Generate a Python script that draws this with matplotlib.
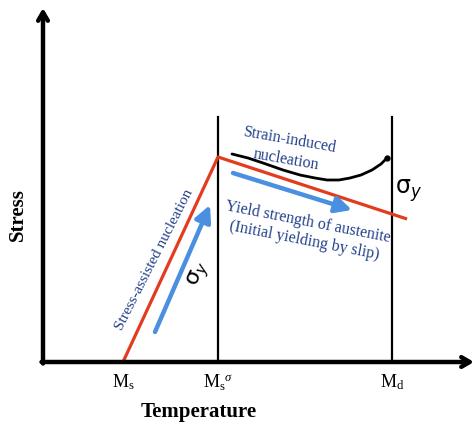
"""
Schematic: stress vs temperature for martensite nucleation
"""

import matplotlib.pyplot as plt
import numpy as np

plt.rcParams["font.family"] = "Liberation Serif"
plt.rcParams["mathtext.fontset"] = "custom"
plt.rcParams["mathtext.rm"] = "Liberation Serif"
plt.rcParams["mathtext.it"] = "Liberation Serif:italic"

# characteristic temperatures (schematic units, origin at the axes corner)
T_MS = 80
T_MS_SIGMA = 175
T_MD = 349
temp_labels = ["M$_\\mathrm{s}$", "M$_\\mathrm{s}{}^{\\sigma}$", "M$_\\mathrm{d}$"]

# red line: stress-assisted nucleation then yield strength of austenite
red_temp = [T_MS, T_MS_SIGMA, 364]
red_stress = [0, 205, 143]

# black curve: strain-induced nucleation
black_temp = [189, 205, 220, 240, 257, 272, 284, 296, 307, 318, 329, 338, 344]
black_stress = [208, 204, 199, 192, 187, 184, 182, 182, 184, 187, 192, 198, 204]

# blue arrows (start, end)
blue_up = [(112, 30), (167, 157)]
blue_down = [(190, 189), (309, 152)]

# axis extents
x_max = 431
y_max = 354
vline_top = 245

TEXT_BLUE = "#22408a"
RED = "#e33b1e"
BLUE = "#4a8fe0"

fig = plt.figure(figsize=(4.75, 4.26), dpi=100)
ax = fig.add_axes([0, 0, 1, 1])
ax.set_xlim(-43, 432)
ax.set_ylim(-64, 362)
ax.axis("off")

# axes with open arrow heads
arrow_kw = dict(arrowstyle="->,head_length=0.6,head_width=0.35", lw=3.2,
                color="black", shrinkA=0, shrinkB=0)
ax.annotate("", xy=(0, y_max), xytext=(0, -1.5), arrowprops=arrow_kw)
ax.annotate("", xy=(x_max, 0), xytext=(-1.5, 0), arrowprops=arrow_kw)

# vertical markers
for t in [T_MS_SIGMA, T_MD]:
    ax.plot([t, t], [0, vline_top], color="black", lw=1.6)

# red line
ax.plot(red_temp, red_stress, color=RED, lw=2.3, solid_capstyle="butt")

# black curve
ax.plot(black_temp, black_stress, color="black", lw=2.0, solid_capstyle="round")
ax.plot(black_temp[-1], black_stress[-1], "o", color="black", ms=3.5)

# blue arrows
blue_kw = dict(arrowstyle="-|>,head_length=0.7,head_width=0.35", lw=3.2,
               color=BLUE, shrinkA=0, shrinkB=0, mutation_scale=14)
for (start, end) in [blue_up, blue_down]:
    ax.annotate("", xy=end, xytext=start, arrowprops=blue_kw)

# tick labels
for t, lab in zip([T_MS, T_MS_SIGMA, T_MD], temp_labels):
    ax.text(t, -20, lab, ha="center", va="center", fontsize=13)

# axis titles
ax.text(156, -50, "Temperature", ha="center", va="center",
        fontsize=15, fontweight="bold")
ax.text(-25, 147, "Stress", ha="center", va="center", rotation=90,
        fontsize=15, fontweight="bold")

# annotations
ax.text(111, 102, "Stress-assisted nucleation", ha="center", va="center",
        rotation=63, rotation_mode="anchor", fontsize=11,
        color=TEXT_BLUE)
ax.text(156, 87, "$\\mathrm{\\sigma}_y$", ha="center", va="center",
        rotation=65, rotation_mode="anchor", fontsize=16,
        math_fontfamily="dejavusans", color="black")
ax.text(245, 212, "Strain-induced\nnucleation", ha="center", va="center",
        rotation=-10, rotation_mode="anchor", fontsize=11.5, color=TEXT_BLUE,
        linespacing=1.3)
ax.text(263, 131, "Yield strength of austenite\n(Initial yielding by slip)",
        ha="center", va="center", rotation=-11, rotation_mode="anchor",
        fontsize=11.5, color=TEXT_BLUE, linespacing=1.25)
ax.text(366, 171, "$\\mathrm{\\sigma}_y$", ha="center", va="center",
        fontsize=17, math_fontfamily="dejavusans", color="black")

fig.savefig("out.png", dpi=100)
